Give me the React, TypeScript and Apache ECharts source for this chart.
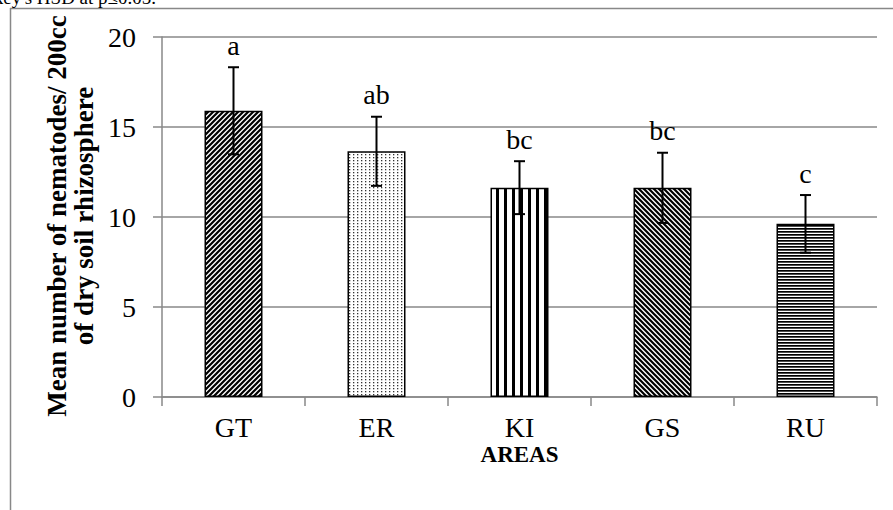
import React, { useEffect, useRef } from "react";
import * as echarts from "echarts";

const categories = ["GT", "ER", "KI", "GS", "RU"];
const means = [15.9, 13.65, 11.63, 11.62, 9.62];
const errors = [2.42, 1.92, 1.47, 1.95, 1.6];
const letters = ["a", "ab", "bc", "bc", "c"];
const yTicks = { min: 0, max: 20, interval: 5 };
const yTitle = "Mean number of nematodes/ 200cc\nof dry soil rhizosphere";
const xTitle = "AREAS";
const topNote = "Tukey's HSD at p≤0.05.";

const SERIF = '"Liberation Serif", "Times New Roman", serif';

const svgTile = (w: number, h: number, body: string) =>
  "data:image/svg+xml;charset=utf-8," +
  encodeURIComponent(
    `<svg xmlns="http://www.w3.org/2000/svg" width="${w}" height="${h}" viewBox="0 0 ${w} ${h}"><rect width="${w}" height="${h}" fill="#fff"/>${body}</svg>`
  );

const patterns = [
  // GT: forward diagonal
  { image: svgTile(5, 5, '<path d="M-1,6 L6,-1 M-1,1 L1,-1 M4,6 L6,4" stroke="#000" stroke-width="2.2"/>'), w: 5, h: 5 },
  // ER: dots
  { image: svgTile(4, 3, '<rect x="1" y="1" width="1.3" height="1.3" fill="#333"/>'), w: 4, h: 3 },
  // KI: vertical stripes
  { image: svgTile(8, 4, '<rect x="0" y="0" width="3" height="4" fill="#000"/>'), w: 8, h: 4 },
  // GS: back diagonal
  { image: svgTile(5, 5, '<path d="M-1,-1 L6,6 M4,-1 L6,1 M-1,4 L1,6" stroke="#000" stroke-width="2.2"/>'), w: 5, h: 5 },
  // RU: horizontal lines
  { image: svgTile(4, 3, '<rect x="0" y="0" width="4" height="1.7" fill="#000"/>'), w: 4, h: 3 },
];

export default function App() {
  const ref = useRef<HTMLDivElement>(null);
  useEffect(() => {
    if (!ref.current) return;
    const chart = echarts.init(ref.current, undefined, { renderer: "svg" });
    const axisGray = "#888888";
    chart.setOption({
      animation: false,
      backgroundColor: "#fff",
      grid: { left: 162, right: 16, top: 37, bottom: 113, containLabel: false },
      xAxis: {
        type: "category",
        data: categories,
        axisLine: { show: true, lineStyle: { color: axisGray, width: 1.5 } },
        axisTick: { show: true, length: 9, lineStyle: { color: axisGray, width: 1.5 } },
        axisLabel: { color: "#000", fontFamily: SERIF, fontSize: 28, margin: 16 },
      },
      yAxis: {
        type: "value",
        min: yTicks.min,
        max: yTicks.max,
        interval: yTicks.interval,
        axisLine: { show: true, lineStyle: { color: axisGray, width: 1.5 } },
        axisTick: { show: true, length: 9, lineStyle: { color: axisGray, width: 1.5 } },
        axisLabel: { color: "#000", fontFamily: SERIF, fontSize: 28, margin: 26 },
        splitLine: { show: true, lineStyle: { color: axisGray, width: 1.5 } },
      },
      series: [
        {
          type: "bar",
          barWidth: 58,
          data: means.map((v, i) => ({
            value: v,
            itemStyle: {
              color: {
                image: patterns[i].image,
                repeat: "repeat",
                imageWidth: patterns[i].w,
                imageHeight: patterns[i].h,
              },
              borderColor: "#000",
              borderWidth: 1.5,
            },
          })),
        },
        {
          type: "custom",
          data: means.map((v, i) => [i, v, errors[i]]),
          z: 5,
          renderItem: (params: any, api: any) => {
            const i = params.dataIndex;
            const x = api.value(0);
            const v = api.value(1);
            const e = api.value(2);
            const top = api.coord([x, v + e]);
            const bot = api.coord([x, v - e]);
            const hw = 5.5;
            const st = { stroke: "#000", lineWidth: 2 };
            return {
              type: "group",
              children: [
                { type: "line", shape: { x1: top[0], y1: top[1], x2: bot[0], y2: bot[1] }, style: st },
                { type: "line", shape: { x1: top[0] - hw, y1: top[1], x2: top[0] + hw, y2: top[1] }, style: st },
                { type: "line", shape: { x1: bot[0] - hw, y1: bot[1], x2: bot[0] + hw, y2: bot[1] }, style: st },
                {
                  type: "text",
                  x: top[0],
                  y: top[1] - 8,
                  style: {
                    text: letters[i],
                    font: `28px ${SERIF}`,
                    fill: "#000",
                    align: "center",
                    verticalAlign: "bottom",
                  },
                },
              ],
            };
          },
        },
      ],
      graphic: [
        { type: "line", shape: { x1: 10.5, y1: 8, x2: 10.5, y2: 510 }, style: { stroke: axisGray, lineWidth: 1.5 } },
        { type: "line", shape: { x1: 10, y1: 8.5, x2: 893, y2: 8.5 }, style: { stroke: axisGray, lineWidth: 1.5 } },
        {
          type: "text",
          x: 156,
          y: 7,
          style: { text: topNote, font: `19px ${SERIF}`, fill: "#000", align: "right", verticalAlign: "bottom" },
        },
        {
          type: "text",
          x: 70,
          y: 216,
          rotation: Math.PI / 2,
          style: {
            text: yTitle,
            font: `bold 27px ${SERIF}`,
            fill: "#000",
            align: "center",
            verticalAlign: "middle",
            lineHeight: 27,
          },
        },
        {
          type: "text",
          x: 519.5,
          y: 454,
          style: {
            text: xTitle,
            font: `bold 23px ${SERIF}`,
            fill: "#000",
            align: "center",
            verticalAlign: "middle",
          },
        },
      ],
    });
    return () => chart.dispose();
  }, []);
  return <div ref={ref} style={{ position: "fixed", left: 0, top: 0, width: 893, height: 510 }} />;
}
